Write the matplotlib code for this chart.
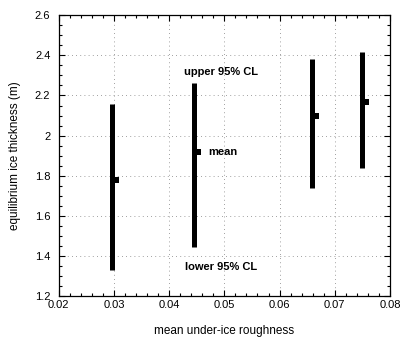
import numpy as np
import matplotlib
matplotlib.use('Agg')
import matplotlib.pyplot as plt
from matplotlib.path import Path
from matplotlib.ticker import MultipleLocator

# roughness of each case and the 95% confidence limits of ice thickness (m)
roughness = [0.0296, 0.0445, 0.0658, 0.0749]
lower_cl = [1.330, 1.444, 1.739, 1.838]
upper_cl = [2.158, 2.262, 2.382, 2.417]
mean_h = [1.779, 1.918, 2.098, 2.168]

xticks = [0.02, 0.03, 0.04, 0.05, 0.06, 0.07, 0.08]
xtick_labels = ['0.02', '0.03', '0.04', '0.05', '0.06', '0.07', '0.08']
yticks = [1.2, 1.4, 1.6, 1.8, 2.0, 2.2, 2.4, 2.6]
ytick_labels = ['1.2', '1.4', '1.6', '1.8', '2', '2.2', '2.4', '2.6']

plt.rcParams['font.family'] = ['Liberation Sans', 'DejaVu Sans']

fig = plt.figure(figsize=(4.03, 3.42), dpi=100)
ax = fig.add_axes([0.1457, 0.1345, 0.822, 0.8208])

# thick bars spanning the confidence interval
ax.vlines(roughness, lower_cl, upper_cl, colors='black', linewidth=3.6)

# mean marker: small block sticking out to the right of each bar
verts = [(-0.1, -0.4), (1.0, -0.4), (1.0, 0.4), (-0.1, 0.4), (-0.1, -0.4)]
codes = [Path.MOVETO, Path.LINETO, Path.LINETO, Path.LINETO, Path.CLOSEPOLY]
mean_marker = Path(verts, codes)
ax.plot(roughness, mean_h, linestyle='none', marker=mean_marker,
        markersize=10, color='black', markeredgewidth=0)

ax.text(0.04262, 2.318, 'upper 95% CL', fontsize=8, fontweight='bold',
        ha='left', va='center')
ax.text(0.0470, mean_h[1], 'mean', fontsize=8, fontweight='bold',
        ha='left', va='center')
ax.text(0.04280, 1.343, 'lower 95% CL', fontsize=8, fontweight='bold',
        ha='left', va='center')

ax.set_xlim(0.02, 0.08)
ax.set_ylim(1.2, 2.6)
ax.set_xticks(xticks)
ax.set_xticklabels(xtick_labels)
ax.set_yticks(yticks)
ax.set_yticklabels(ytick_labels)
ax.xaxis.set_minor_locator(MultipleLocator(0.002))
ax.yaxis.set_minor_locator(MultipleLocator(0.05))

ax.tick_params(which='both', direction='in', top=True, right=True,
               colors='black', width=0.8)
ax.tick_params(which='major', length=4, labelsize=8)
ax.tick_params(which='minor', length=2)
ax.tick_params(axis='x', pad=3)
ax.tick_params(axis='y', pad=6)

ax.grid(True, which='major', linestyle=(0, (1, 4)), color='0.5', linewidth=0.6)
ax.set_axisbelow(True)
for s in ax.spines.values():
    s.set_linewidth(0.9)

ax.set_xlabel('mean under-ice roughness', fontsize=8.5, labelpad=11)
ax.set_ylabel('equilibrium ice thickness (m)', fontsize=8.5, labelpad=10)

fig.savefig('out.png', dpi=100)
